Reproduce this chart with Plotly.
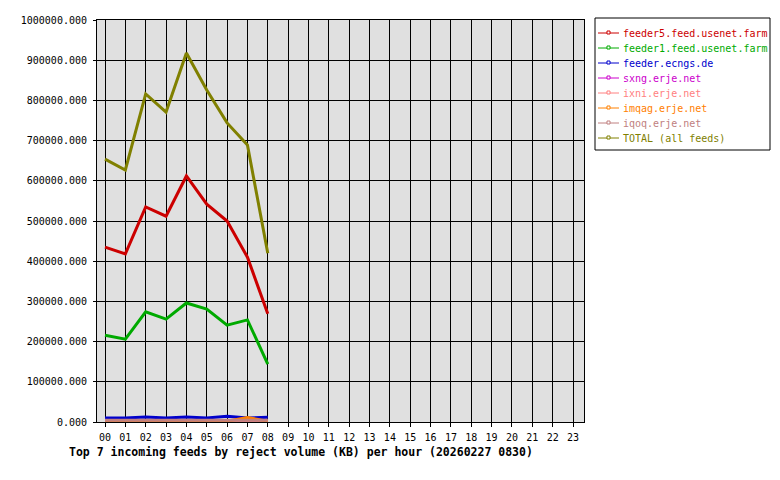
import plotly.graph_objects as go

# hourly reject volume (KB), hours 00..08
hours = [0, 1, 2, 3, 4, 5, 6, 7, 8]
hour_labels = ["%02d" % h for h in range(24)]

feeder5 = [435000, 418000, 535000, 512000, 612000, 542000, 500000, 410000, 269000]
feeder1 = [216000, 206000, 274000, 256000, 296000, 281000, 241000, 254000, 144000]
ecngs = [10000, 10000, 12500, 10000, 12500, 10000, 14500, 10000, 12000]
sxng = [2000, 2000, 2000, 2000, 2000, 2000, 2000, 2000, 2000]
ixni = [2000, 2000, 2000, 2000, 2000, 2000, 2000, 2000, 2000]
imqag = [2000, 2000, 2000, 2000, 2000, 2000, 2000, 11000, 2000]
iqoq = [4500, 4500, 4500, 4500, 4500, 4500, 4500, 4500, 4500]
total = [654000, 627000, 816000, 771000, 918000, 826000, 744000, 689000, 420000]

series = [
    ("feeder5.feed.usenet.farm", feeder5, "#cc0000"),
    ("feeder1.feed.usenet.farm", feeder1, "#00aa00"),
    ("feeder.ecngs.de", ecngs, "#0000cc"),
    ("sxng.erje.net", sxng, "#cc00cc"),
    ("ixni.erje.net", ixni, "#ff8080"),
    ("imqag.erje.net", imqag, "#ff8000"),
    ("iqoq.erje.net", iqoq, "#c08080"),
    ("TOTAL (all feeds)", total, "#808000"),
]

MONO = "DejaVu Sans Mono"
W, H = 780, 480
L, R, T, B = 97, 584, 20, 422  # plot area in pixels


def px(x):
    return (x - L) / (R - L)


def py(y):
    return (B - y) / (B - T)


fig = go.Figure()
for name, vals, color in series:
    fig.add_trace(go.Scatter(
        x=hours, y=vals, name=name, mode="lines",
        line=dict(color=color, width=3),
        showlegend=False,
    ))

# hand-drawn legend box to match the original layout
shapes = [dict(type="rect", xref="paper", yref="paper",
               x0=px(595), x1=px(770), y0=py(150), y1=py(18),
               line=dict(color="black", width=1), fillcolor="white", layer="above")]
annotations = []
for i, (name, vals, color) in enumerate(series):
    yc = 33 + 15 * i
    shapes.append(dict(type="line", xref="paper", yref="paper",
                       x0=px(598), x1=px(619), y0=py(yc), y1=py(yc),
                       line=dict(color=color, width=1), layer="above"))
    shapes.append(dict(type="rect", xref="paper", yref="paper",
                       x0=px(607), x1=px(610), y0=py(yc + 1), y1=py(yc - 2),
                       line=dict(color=color, width=1), fillcolor="white", layer="above"))
    annotations.append(dict(text=name, xref="paper", yref="paper",
                            x=px(621), y=py(yc), xanchor="left", yanchor="middle",
                            showarrow=False, font=dict(family=MONO, size=10, color=color)))

annotations.append(dict(
    text="<b>Top 7 incoming feeds by reject volume (KB) per hour (20260227 0830)</b>",
    xref="paper", yref="paper", x=px(67), y=py(452), xanchor="left", yanchor="middle",
    showarrow=False, font=dict(family=MONO, size=11.5, color="black")))

fig.update_layout(
    width=W, height=H,
    margin=dict(l=L, r=W - R, t=T, b=H - B, pad=0, autoexpand=False),
    paper_bgcolor="white",
    plot_bgcolor="#e0e0e0",
    font=dict(family=MONO, size=10, color="black"),
    showlegend=False,
    shapes=shapes,
    annotations=annotations,
)
fig.update_xaxes(
    range=[-0.393, 23.54], tickmode="array",
    tickvals=list(range(24)), ticktext=hour_labels,
    showgrid=True, gridcolor="black", gridwidth=1,
    showline=True, linecolor="black", linewidth=1, mirror=True,
    ticks="outside", ticklen=4, tickcolor="black", zeroline=False,
    ticklabelstandoff=2, automargin=False,
)
fig.update_yaxes(
    range=[0, 1000000], tick0=0, dtick=100000, tickformat=".3f",
    showgrid=True, gridcolor="black", gridwidth=1,
    showline=True, linecolor="black", linewidth=1, mirror=True,
    ticks="outside", ticklen=3, tickcolor="black", zeroline=False,
    ticklabelstandoff=4, automargin=False,
)

# the page's default 8px body margin would push the chart off its spot
fig.write_html("out.html", config={"displayModeBar": False},
               post_script="document.body.style.margin='0';")
